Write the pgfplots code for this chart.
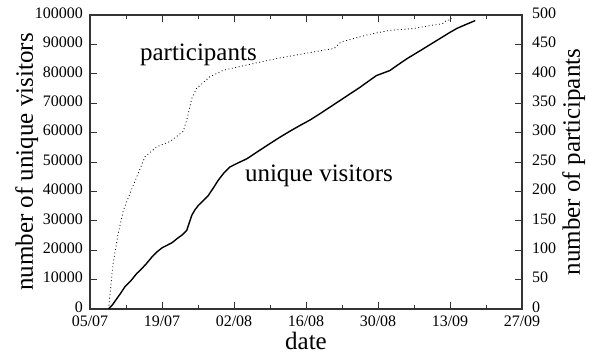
\documentclass[border=0pt]{standalone}
\usepackage{pgfplots}
\pgfplotsset{compat=1.18}
\usepackage{fontspec}
\setmainfont{Liberation Serif}
\begin{document}
\begin{tikzpicture}
\useasboundingbox (-90pt,-44pt) rectangle (499pt,309pt);
\begin{axis}[
  at={(0pt,0pt)}, anchor=south west,
  scale only axis, width=432pt, height=294pt,
  xmin=0, xmax=84, ymin=0, ymax=100000,
  xtick={0,14,28,42,56,70,84},
  xticklabels={05/07,19/07,02/08,16/08,30/08,13/09,27/09},
  minor xtick={7,21,35,49,63,77},
  ytick={0,10000,...,100000},
  scaled y ticks=false,
  /pgf/number format/fixed,
  /pgf/number format/1000 sep={},
  /pgf/number format/assume math mode=true,
  xticklabel style={inner sep=0pt, yshift=-6.5pt, font=\fontsize{16}{16}\selectfont},
  yticklabel style={inner sep=0pt, xshift=-7pt, yshift=2pt, font=\fontsize{16}{16}\selectfont},
  xtick pos=both, ytick pos=left,
  tick align=inside,
  major tick length=7pt, minor tick length=4pt,
  every tick/.style={line width=0.9pt, black!80},
  axis line style={line width=1.2pt, black!80},
  xlabel={date}, ylabel={number of unique visitors},
  label style={font=\fontsize{25}{25}\selectfont, inner sep=0pt},
  xlabel style={at={(axis description cs:0.5,-0.139)}, anchor=base},
  ylabel style={at={(axis description cs:-0.132,0.5)}, anchor=base},
  clip=false,
]
\addplot[black, line width=1.4pt] coordinates {
(3.6,0) (4.4,1500) (5.0,3000) (5.9,5200) (6.8,7600) (7.9,9500) (9.1,12100)
(10.0,13600) (11.0,15500) (12.0,17600) (13.0,19400) (14.0,20800)
(14.9,21600) (16.0,22600) (16.9,23900) (18.0,25300) (18.8,26700)
(19.3,29300) (19.8,31900) (20.4,33700) (21.1,35300) (22.0,36800)
(23.0,38600) (24.0,41200) (24.9,43700) (26.0,46200) (27.2,48300)
(28.8,49700) (30.5,51100) (32.4,53300) (34.4,55600) (36.9,58400)
(38.9,60500) (40.8,62400) (42.8,64300) (44.7,66400) (46.6,68600)
(48.6,70900) (50.5,73100) (52.5,75400) (54.0,77300) (55.7,79400)
(58.3,81100) (60.0,83200) (61.6,85100) (63.2,86800) (64.8,88500)
(67.4,91300) (68.7,92700) (70.0,94100) (71.3,95400) (72.6,96400)
(74.9,98100)
};
\node[anchor=base west, inner sep=0pt, font=\fontsize{25}{25}\selectfont] at (axis cs:9.7,84400) {participants};
\node[anchor=base west, inner sep=0pt, font=\fontsize{25}{25}\selectfont] at (axis cs:30.1,43500) {unique visitors};
\end{axis}
\begin{axis}[
  at={(0pt,0pt)}, anchor=south west,
  scale only axis, width=432pt, height=294pt,
  xmin=0, xmax=84, ymin=0, ymax=500,
  axis x line=none, axis y line*=right,
  ytick={0,50,...,500},
  /pgf/number format/assume math mode=true,
  yticklabel style={inner sep=0pt, xshift=10pt, yshift=2pt, font=\fontsize{16}{16}\selectfont},
  tick align=inside,
  major tick length=7pt,
  every tick/.style={line width=0.9pt, black!80},
  axis line style={line width=1.2pt, black!80, -},
  ylabel={number of participants},
  label style={font=\fontsize{25}{25}\selectfont, inner sep=0pt},
  ylabel style={at={(axis description cs:1.134,0.5)}, anchor=base},
]
\addplot[black, line width=0.8pt, dash pattern=on 0.9pt off 2.6pt] coordinates {
(3.6,0) (4.5,78) (5.5,129) (6.5,168) (7.8,197) (9.1,225) (10.7,259)
(13.0,276) (15.6,285) (18.1,302) (18.8,321) (19.8,358) (20.7,375)
(23.3,395) (25.9,406) (30.5,415) (36.3,426) (42.1,435) (46.7,442)
(47.5,443) (48.5,452) (49.2,455) (53.8,466) (58.3,474) (62.9,477)
(66.8,483) (68.5,485) (69.2,490) (70.0,492) (70.3,494)
};
\end{axis}
\end{tikzpicture}
\end{document}
